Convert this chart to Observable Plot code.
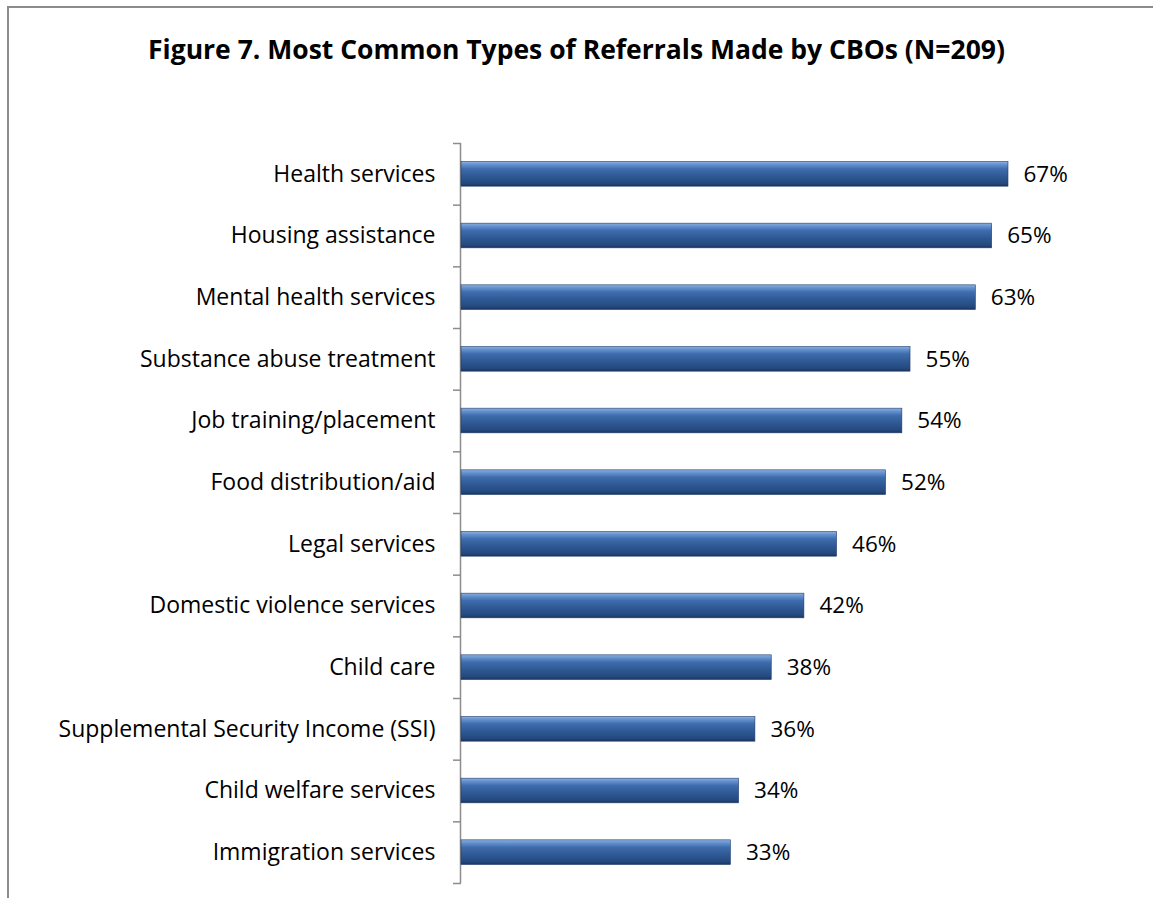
<!DOCTYPE html>
<html>
<head>
<meta charset="utf-8">
<script src="https://cdn.jsdelivr.net/npm/d3@7"></script>
<script src="https://cdn.jsdelivr.net/npm/@observablehq/plot@0.6"></script>
<style>
  html, body { margin: 0; padding: 0; background: #fff; }
  #wrap { position: relative; width: 1153px; height: 898px; overflow: hidden; }
  #frame { position: absolute; left: 7px; top: 6px; width: 1160px; height: 900px;
           border-left: 2px solid #8c8c8c; border-top: 2px solid #8c8c8c; box-sizing: border-box; }
  #title { position: absolute; left: 0; width: 1153px; top: 31px; text-align: center; line-height: 36px;
           font-family: "Open Sans", sans-serif; font-weight: bold; font-size: 26.5px; color: #000; }
  #chart { position: absolute; left: 0; top: 0; }
</style>
</head>
<body>
<div id="wrap">
  <div id="frame"></div>
  <div id="title">Figure 7. Most Common Types of Referrals Made by CBOs (N=209)</div>
  <div id="chart"></div>
</div>
<script>
const categories = [
  "Health services",
  "Housing assistance",
  "Mental health services",
  "Substance abuse treatment",
  "Job training/placement",
  "Food distribution/aid",
  "Legal services",
  "Domestic violence services",
  "Child care",
  "Supplemental Security Income (SSI)",
  "Child welfare services",
  "Immigration services"
];
const values = [67, 65, 63, 55, 54, 52, 46, 42, 38, 36, 34, 33];

const data = categories.map((c, i) => ({category: c, value: values[i], i}));
const n = categories.length;

const plot = Plot.plot({
  width: 1153,
  height: 898,
  marginTop: 143,
  marginBottom: 15,
  marginLeft: 461,
  marginRight: 145,
  style: {fontFamily: "'Open Sans', sans-serif", fontSize: "23px", color: "#000", background: "transparent"},
  x: {domain: [0, 67], axis: null},
  y: {domain: [0, n], range: [143, 883], axis: null},
  marks: [
    // category labels
    Plot.axisY({
      ticks: d3.range(n).map(i => i + 0.5),
      tickFormat: t => categories[Math.floor(t)],
      tickSize: 0,
      tickPadding: 26,
      fontSize: 23,
      anchor: "left",
      color: "#000"
    }),
    // boundary tick marks
    Plot.axisY({
      ticks: d3.range(n + 1),
      tickFormat: () => "",
      tickSize: 8,
      anchor: "left",
      stroke: "#8c8c8c",
      strokeWidth: 1.5
    }),
    Plot.ruleX([0], {y1: 0, y2: n, stroke: "#8c8c8c", strokeWidth: 1.5, dx: -1}),
    Plot.rectX(data, {
      x1: 0, x2: "value",
      y1: d => d.i + 0.3, y2: d => d.i + 0.7,
      fill: "url(#barGrad)",
      stroke: "#1f3d6b",
      strokeWidth: 0.6
    }),
    Plot.text(data, {
      x: "value",
      y: d => d.i + 0.5,
      text: d => `${d.value}%`,
      textAnchor: "start",
      dx: 15,
      fontSize: 22.5,
      fill: "#000"
    })
  ]
});

// gradient + shadow defs
const svg = d3.select(plot);
const defs = svg.insert("defs", ":first-child");
const g = defs.append("linearGradient").attr("id", "barGrad")
  .attr("x1", 0).attr("y1", 0).attr("x2", 0).attr("y2", 1);
[[0, "#8eb0de"], [0.12, "#6592cf"], [0.3, "#3f6cad"], [0.6, "#2e5994"], [0.88, "#25497f"], [1, "#1a355e"]]
  .forEach(([o, c]) => g.append("stop").attr("offset", o).attr("stop-color", c));
const f = defs.append("filter").attr("id", "barShadow")
  .attr("x", "-5%").attr("y", "-30%").attr("width", "110%").attr("height", "180%");
f.append("feDropShadow").attr("dx", 1).attr("dy", 3).attr("stdDeviation", 2.2)
  .attr("flood-color", "#000").attr("flood-opacity", 0.3);
svg.selectAll("rect").filter(function() { return this.getAttribute("fill") === "url(#barGrad)"; })
  .attr("filter", "url(#barShadow)");

document.getElementById("chart").appendChild(plot);
</script>
</body>
</html>
